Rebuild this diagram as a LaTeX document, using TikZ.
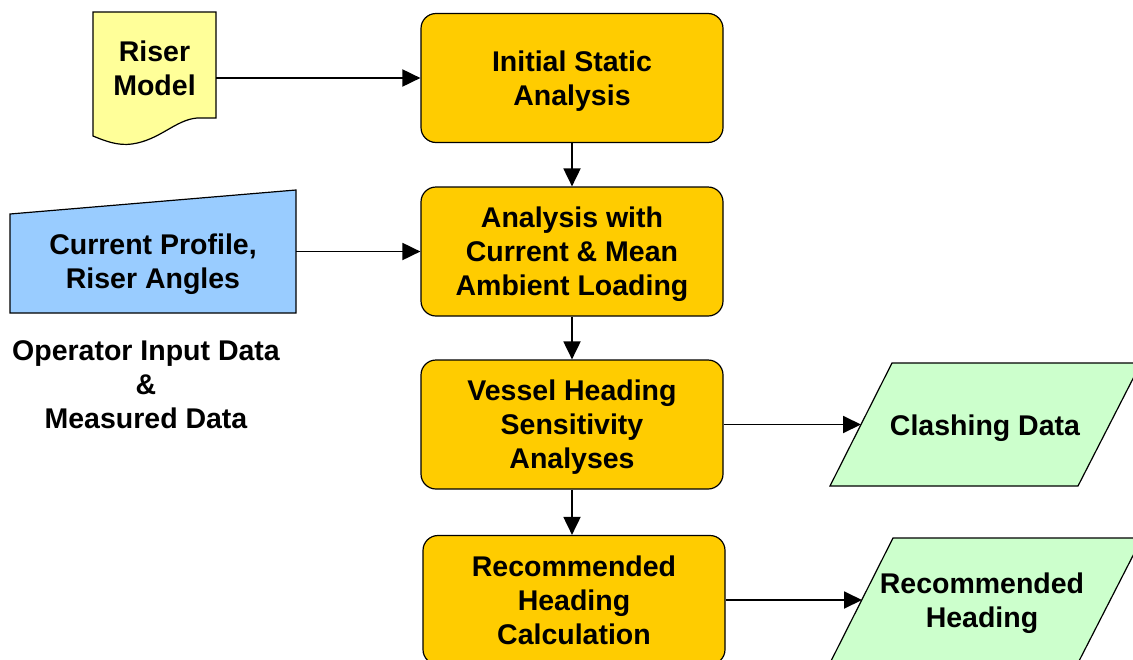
\documentclass[tikz,border=0pt]{standalone}
\usepackage{fontspec}
\setmainfont{Liberation Sans}
\usetikzlibrary{arrows.meta}
\definecolor{boxorange}{HTML}{FFCC00}
\definecolor{docyellow}{HTML}{FFFF99}
\definecolor{inputblue}{HTML}{99CCFF}
\definecolor{outgreen}{HTML}{CCFFCC}
\begin{document}
\begin{tikzpicture}[x=1pt, y=-1pt,
  txt/.style = {font=\bfseries\fontsize{28.5}{34}\selectfont, align=center},
  stage/.style = {txt, rectangle, rounded corners=15pt, draw, line width=1.2pt, fill=boxorange, minimum width=302pt, minimum height=129pt, text depth=-2pt},
  frame/.style = {draw, line width=1.2pt},
  hook/.style = {minimum width=#1, inner sep=0pt},
  flow/.style = {line width=1.9pt, -{Triangle[length=18pt, width=17pt]}}]

\useasboundingbox (0,0) rectangle (1133,659);

\node[stage] (init) at (572, 78) {Initial Static\\Analysis};
\node[stage] (ambient) at (572, 251.5) {Analysis with\\Current \& Mean\\Ambient Loading};
\node[stage] (heading) at (572, 424.5) {Vessel Heading\\Sensitivity\\Analyses};
\node[stage] (calc) at (574, 600) {Recommended\\Heading\\Calculation};

% inputs
\draw[frame, fill=docyellow] (216,118) -- (216,12) -- (93,12) -- (93,136) .. controls (105,141) and (118,146) .. (132,144) .. controls (160,140) and (175,120) .. (197,118) -- cycle;
\node[hook=123pt, minimum height=132pt] (riser) at (154.5, 78) {};
\node[txt] (riserText) at (154.5, 68) {Riser\\Model};

\draw[frame, fill=inputblue] (10,214) -- (296,190) -- (296,313) -- (10,313) -- cycle;
\node[hook=286pt, minimum height=123pt] (current) at (153, 251.5) {};
\node[txt] (currentText) at (153, 264) {Current Profile,\\Riser Angles};

\node[txt] (operator) at (146, 385) {Operator Input Data\\\&\\Measured Data};

% outputs
\draw[frame, fill=outgreen] (892,363) -- (1141,363) -- (1078,486) -- (830,486) -- cycle;
\coordinate (clashIn) at (861, 424.5);
\node[txt] (clash) at (985, 428) {Clashing Data};

\draw[frame, fill=outgreen] (893,538) -- (1142,538) -- (1079,661) -- (831,661) -- cycle;
\coordinate (recIn) at (862, 600);
\node[txt] (rec) at (982, 603) {Recommended\\Heading};

\draw[flow] (riser.east) -- (init.west);
\draw[flow] (current.east) -- (ambient.west);
\draw[flow] (init) -- (ambient);
\draw[flow] (ambient) -- (heading);
\draw[flow] (heading.south) -- (calc.north -| heading.south);
\draw[flow] (heading.east) -- (clashIn);
\draw[flow] (calc.east) -- (recIn);

\end{tikzpicture}
\end{document}
